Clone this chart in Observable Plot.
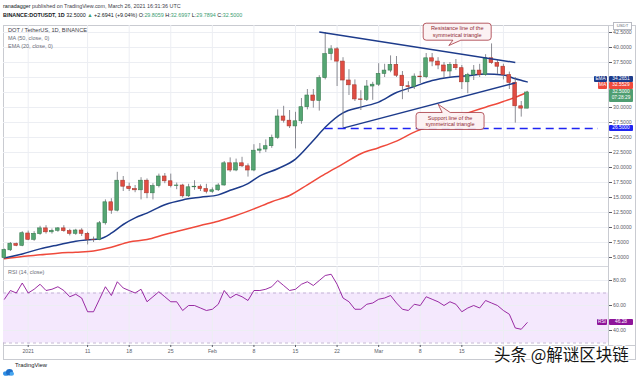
<!DOCTYPE html>
<html>
<head>
<meta charset="utf-8">
<script src="https://cdn.jsdelivr.net/npm/d3@7"></script>
<script src="https://cdn.jsdelivr.net/npm/@observablehq/plot@0.6"></script>
<style>
html,body{margin:0;padding:0;background:#fff;}
#root{position:relative;width:640px;height:376px;overflow:hidden;background:#fff;font-family:"Liberation Sans",Arial,sans-serif;}
.a{position:absolute;white-space:nowrap;}
</style>
</head>
<body>
<div id="root"></div>
<script>
// ---------------- data ----------------
const firstDay = "2020-12-28";
const open = [4.90,6.20,7.25,6.95,
  9.00,7.95,8.90,9.85,9.20,9.45,9.85,9.40,8.95,9.50,8.95,7.95,7.90,10.70,14.20,12.80,17.80,16.80,16.40,16.20,17.80,15.70,16.90,18.50,17.70,16.90,17.00,15.20,16.70,16.80,16.40,
  15.95,16.20,17.00,20.70,19.50,20.70,20.20,19.50,22.80,23.00,23.55,24.95,28.50,27.80,26.85,27.70,30.05,32.00,31.10,34.90,38.90,39.70,37.65,34.50,33.70,31.35,31.25,33.50,
  33.80,35.60,36.15,37.10,35.30,33.55,33.40,35.15,35.05,38.20,37.65,37.00,36.00,37.10,36.55,34.20,35.40,36.15,35.40,38.20,37.40,36.80,35.40,34.10,30.20,29.81];
const high = [6.40,7.50,7.40,9.30,
  9.40,9.30,10.20,10.30,9.75,10.00,10.30,9.70,9.70,9.80,9.20,8.40,11.00,14.60,14.80,19.20,18.50,17.40,17.00,18.30,18.10,17.30,18.90,19.00,18.90,17.40,17.20,17.20,17.80,17.10,17.20,
  16.60,17.30,21.00,21.60,21.40,21.70,20.60,23.80,24.00,24.60,25.40,29.60,30.20,29.50,29.20,31.50,33.00,33.00,35.30,42.50,40.30,40.00,38.30,36.30,34.60,32.80,34.50,34.20,
  37.30,37.20,38.60,38.50,36.00,34.30,35.60,36.00,39.00,39.00,38.30,37.50,37.50,38.00,37.00,35.70,37.00,37.20,38.80,40.60,37.80,37.20,35.90,35.00,31.00,32.70];
const low = [4.80,6.00,6.80,6.80,
  7.80,7.70,8.70,8.90,8.90,9.20,9.20,8.60,8.70,8.50,7.10,7.50,7.80,10.40,12.20,12.60,16.00,16.00,15.80,14.60,14.80,14.60,16.60,17.30,16.60,16.30,14.90,15.00,16.20,16.00,15.60,
  15.70,16.00,16.90,19.20,19.30,20.00,18.40,19.30,22.30,22.50,23.20,24.70,27.40,26.50,23.10,27.20,29.60,29.90,29.40,34.60,37.80,33.50,26.60,32.00,31.00,29.50,31.00,31.20,
  33.50,35.00,35.80,35.00,31.30,32.50,33.00,34.00,34.80,36.80,36.30,34.80,35.00,36.20,33.00,32.30,34.50,35.00,35.20,37.20,35.50,34.60,33.00,27.40,28.40,29.79];
const close = [6.25,7.30,6.95,9.05,
  7.95,8.95,9.85,9.20,9.45,9.85,9.40,8.95,9.50,8.95,7.95,7.90,10.70,14.20,12.80,17.80,16.80,16.40,16.20,17.80,15.70,16.90,18.50,17.70,16.90,17.00,15.20,16.70,16.80,16.40,15.95,
  16.20,17.00,20.70,19.50,20.70,20.20,19.50,22.80,23.00,23.55,24.95,28.50,27.80,26.85,27.70,30.05,32.00,31.10,34.90,38.90,39.70,37.65,34.50,33.70,31.35,31.25,33.50,33.80,
  35.60,36.15,37.10,35.30,33.55,33.40,35.15,35.05,38.20,37.65,37.00,36.00,37.10,36.55,34.20,35.40,36.15,35.40,38.20,37.40,36.80,35.40,34.10,30.20,29.81,32.50];

const emaDates = ["2020-12-28","2020-12-31","2021-01-03","2021-01-06","2021-01-09","2021-01-11","2021-01-13","2021-01-15","2021-01-17","2021-01-19","2021-01-21","2021-01-24","2021-01-27","2021-01-30","2021-02-02","2021-02-04","2021-02-07","2021-02-09","2021-02-12","2021-02-15","2021-02-18","2021-02-20","2021-02-23","2021-02-26","2021-03-01","2021-03-04","2021-03-07","2021-03-10","2021-03-13","2021-03-16","2021-03-19","2021-03-22","2021-03-24","2021-03-26"];
const emaValues = [4.94,5.6,6.44,7.1,7.72,7.94,8.1,9.05,10.5,11.6,12.4,13.8,14.6,15.05,15.44,16.2,17.3,18.6,19.8,21.4,24.5,26.7,29.1,30.06,30.9,32.5,33.5,34.5,35.05,35.3,35.6,35.4,34.8,34.27];

const maDates = ["2020-12-28","2020-12-31","2021-01-03","2021-01-06","2021-01-09","2021-01-12","2021-01-15","2021-01-18","2021-01-21","2021-01-24","2021-01-27","2021-01-30","2021-02-02","2021-02-05","2021-02-08","2021-02-11","2021-02-14","2021-02-17","2021-02-20","2021-02-23","2021-02-26","2021-03-01","2021-03-04","2021-03-07","2021-03-10","2021-03-13","2021-03-16","2021-03-19","2021-03-22","2021-03-24","2021-03-26"];
const maValues = [4.78,5.17,5.44,5.72,5.89,6.1,6.7,7.6,8.0,8.83,9.6,10.33,11.05,12.0,13.1,14.3,15.33,17.1,18.94,20.6,22.3,23.3,24.4,25.9,27.0,28.1,29.1,30.05,31.0,31.7,32.55];

const rsiValues = [65,72,70,78,
  70,73,77,72,73,75,72,67,69,66,55,55,65,75,68,79,74,72,70,73,63,67,71,67,63,63,56,60,60,58,56,
  57,61,72,66,69,67,64,72,72,73,75,80,76,72,73,77,79,76,80,84,85,77,66,63,57,57,61,62,
  65,66,68,62,57,56,61,60,67,65,63,60,63,61,55,58,60,58,64,62,60,56,53,42,41,46.28];

const resistanceLine = {from:"2021-02-19", fromPrice:42.6, to:"2021-03-24", toPrice:37.5};
const supportLine = {from:"2021-02-23", fromPrice:26.56, to:"2021-03-24", toPrice:34.1};
const supportLevel = {price:26.5, from:"2021-02-20", to:"2021-04-07"};

const callouts = [
  {lines:["Resistance line of the","symmetrical triangle"], at:"2021-03-14T07:12Z", price:42.55, tipAt:"2021-03-12T21:36Z", tipPrice:40.25},
  {lines:["Support line of the","symmetrical triangle"], at:"2021-03-13T02:24Z", price:27.67, tipAt:"2021-03-11T02:24Z", tipPrice:30.45}
];

const priceTicks = [5,7.5,10,12.5,15,17.5,20,22.5,25,27.5,30,32.5,35,37.5,40,42.5];
const rsiTicks = [40,60,80];
// grid dates; the last one's label is hidden under the watermark in the reference
const timeTicks = ["2021-01-01","2021-01-11","2021-01-18","2021-01-25","2021-02-01","2021-02-08","2021-02-15","2021-02-22","2021-03-01","2021-03-08","2021-03-15","2021-03-22"];
const timeLabels = ["2021","11","18","25","Feb","8","15","22","Mar","8","15",""];

const lastEMA = 34.2651, lastMA = 32.5529, lastClose = 32.5, lastRSI = 46.28;

// ---------------- build ----------------
const UP = "#55a673", UPB = "#3b7d52", DN = "#e14d43", DNB = "#a9392f", WICK = "#6f7079";
const NAVY = "#1d3b8b", MARED = "#ef4a3c", BLUE = "#1f24f2", RSIC = "#8e1599";
const D = s => new Date(s.length === 10 ? s + "T00:00Z" : s);
const day0 = D(firstDay);
const candles = open.map((o, i) => ({date: d3.utcDay.offset(day0, i), open: o, high: high[i], low: low[i], close: close[i]}));
const ema = emaDates.map((d, i) => ({date: D(d), value: emaValues[i]}));
const ma = maDates.map((d, i) => ({date: D(d), value: maValues[i]}));
const rsi = rsiValues.map((v, i) => ({date: d3.utcDay.offset(day0, i), value: v}));
const tDates = timeTicks.map(D);
const labelDates = tDates.filter((d, i) => timeLabels[i] !== "");
const labelOf = new Map(tDates.map((d, i) => [+d, timeLabels[i]]));
// axis labels covered by the last-value tags are not drawn (as in the reference)
const priceLabelTicks = priceTicks.filter(t => !(t > lastClose - 0.6 && t < lastEMA + 1.2));

const xDomain = [new Date(Date.UTC(2020,11,27,20,13)), new Date(Date.UTC(2021,3,8,16,34))];
const W = 632, MR = 27;
const GRID = "#eceef3";
const root = document.getElementById("root");
function add(html, css) { const d = document.createElement("div"); d.className = "a"; d.style.cssText = css; d.innerHTML = html; root.appendChild(d); return d; }
function place(svg, left, top) { svg.style.position = "absolute"; svg.style.left = left + "px"; svg.style.top = top + "px"; svg.style.overflow = "visible"; svg.style.background = "transparent"; root.appendChild(svg); }

// frame
add("", "left:3px;top:25px;width:631px;height:333px;border:1px solid #c9cbd1;");
add("", "left:608px;top:25px;width:1px;height:321px;background:#c9cbd1;");
add("", "left:4px;top:266px;width:604px;height:1px;background:#d5d7dd;");
add("", "left:4px;top:345px;width:631px;height:1px;background:#c9cbd1;");

const half = 7.5; // hours, half body width
const bodyOpts = {
  x1: d => d3.utcHour.offset(d.date, -half), x2: d => d3.utcHour.offset(d.date, half),
  y1: d => Math.min(d.open, d.close), y2: d => Math.max(d.open, d.close), strokeWidth: 0.6
};
const upC = candles.filter(d => d.close >= d.open), dnC = candles.filter(d => d.close < d.open);

const main = Plot.plot({
  width: W, height: 240, marginTop: 0, marginBottom: 0, marginLeft: 0, marginRight: MR,
  style: {fontFamily: "Liberation Sans, Arial, sans-serif", color: "#5b5e69", background: "transparent", overflow: "visible"},
  x: {type: "utc", domain: xDomain, axis: null},
  y: {domain: [25 - 128/6, 25 + 112/6], axis: null},
  marks: [
    Plot.gridX(tDates, {stroke: GRID, strokeOpacity: 1}),
    Plot.gridY(priceTicks, {stroke: GRID, strokeOpacity: 1}),
    Plot.axisY(priceLabelTicks, {anchor: "right", tickSize: 3, tickPadding: 1.5, fontSize: 5.2, tickFormat: d => d.toFixed(4), label: null}),
    Plot.line(ma, {x: "date", y: "value", stroke: MARED, strokeWidth: 1.5, curve: "monotone-x"}),
    Plot.line(ema, {x: "date", y: "value", stroke: NAVY, strokeWidth: 1.5, curve: "monotone-x"}),
    Plot.ruleX(candles, {x: "date", y1: "low", y2: "high", stroke: WICK, strokeWidth: 0.8}),
    Plot.rect(upC, {...bodyOpts, fill: UP, stroke: UPB}),
    Plot.rect(dnC, {...bodyOpts, fill: DN, stroke: DNB}),
    Plot.link([resistanceLine, supportLine], {x1: d => D(d.from), y1: "fromPrice", x2: d => D(d.to), y2: "toPrice", stroke: NAVY, strokeWidth: 1.5}),
    Plot.ruleY([supportLevel], {y: "price", x1: d => D(d.from), x2: d => D(d.to), stroke: BLUE, strokeWidth: 1.6, strokeDasharray: "8,5"})
  ]
});
place(main, 3, 25);

// callouts drawn with the plot's own scales
const sx = main.scale("x"), sy = main.scale("y");
const g = d3.select(main).append("g");
for (const c of callouts) {
  const cx = sx.apply(D(c.at)), cy = sy.apply(c.price);
  const tx = sx.apply(D(c.tipAt)), ty = sy.apply(c.tipPrice);
  const w = 68, h = 17, r = 3;
  const x0 = cx - w/2, x1 = cx + w/2, y0 = cy - h/2, y1 = cy + h/2;
  const bx = tx + 4, bw = 8;
  let p;
  if (ty > y1) {
    p = `M${x0+r},${y0}H${x1-r}A${r},${r} 0 0 1 ${x1},${y0+r}V${y1-r}A${r},${r} 0 0 1 ${x1-r},${y1}H${bx+bw}L${tx},${ty}L${bx},${y1}H${x0+r}A${r},${r} 0 0 1 ${x0},${y1-r}V${y0+r}A${r},${r} 0 0 1 ${x0+r},${y0}Z`;
  } else {
    p = `M${x0+r},${y0}H${bx}L${tx},${ty}L${bx+bw},${y0}H${x1-r}A${r},${r} 0 0 1 ${x1},${y0+r}V${y1-r}A${r},${r} 0 0 1 ${x1-r},${y1}H${x0+r}A${r},${r} 0 0 1 ${x0},${y1-r}V${y0+r}A${r},${r} 0 0 1 ${x0+r},${y0}Z`;
  }
  g.append("path").attr("d", p).attr("fill", "#fcf1f2").attr("fill-opacity", 0.93).attr("stroke", "#a5343e").attr("stroke-width", 0.8);
  c.lines.forEach((t, i) => {
    g.append("text").attr("x", cx).attr("y", cy - 3.3 + i * 6.6).attr("dy", "0.35em").attr("text-anchor", "middle")
      .attr("font-size", 5.5).attr("fill", "#8e2a33").attr("font-family", "Liberation Sans, Arial, sans-serif").text(t);
  });
}

// RSI pane
const rsiPlot = Plot.plot({
  width: W, height: 79, marginTop: 0, marginBottom: 0, marginLeft: 0, marginRight: MR,
  style: {fontFamily: "Liberation Sans, Arial, sans-serif", color: "#5b5e69", background: "transparent", overflow: "visible"},
  x: {type: "utc", domain: xDomain, axis: null},
  y: {domain: [28, 91.2], axis: null},
  marks: [
    Plot.rect([{lo: 30, hi: 70}], {x1: () => xDomain[0], x2: () => xDomain[1], y1: "lo", y2: "hi", fill: "#f4e8fd"}),
    Plot.gridX(tDates, {stroke: GRID, strokeOpacity: 1}),
    Plot.gridY(rsiTicks, {stroke: GRID, strokeOpacity: 1}),
    Plot.ruleY([30, 70], {stroke: "#b9a6cc", strokeWidth: 0.8, strokeDasharray: "3,3"}),
    Plot.axisY(rsiTicks, {anchor: "right", tickSize: 3, tickPadding: 1.5, fontSize: 5.2, tickFormat: d => d.toFixed(2), label: null}),
    Plot.line(rsi, {x: "date", y: "value", stroke: RSIC, strokeWidth: 0.9})
  ]
});
place(rsiPlot, 3, 266);

// time axis
const timeAxis = Plot.plot({
  width: W, height: 14, marginTop: 0, marginBottom: 14, marginLeft: 0, marginRight: MR,
  style: {fontFamily: "Liberation Sans, Arial, sans-serif", color: "#5b5e69", background: "transparent", overflow: "visible"},
  x: {type: "utc", domain: xDomain},
  marks: [Plot.axisX(labelDates, {anchor: "bottom", tickSize: 2, tickPadding: 1.5, fontSize: 5.2, tickFormat: d => labelOf.get(+d), label: null})]
});
place(timeAxis, 3, 345);

// header
const G = "#3c9d72";
add(`<span style="color:#131722">ranadagger</span> published on TradingView.com, March 26, 2021 16:31:36 UTC`,
    "left:3px;top:3px;font-size:5.4px;line-height:7px;color:#3d4049;");
add(`<b style="color:#131722">BINANCE:DOTUSDT, 1D</b> ${lastClose.toFixed(4)} <span style="color:${G}">▲</span> +2.6941 (+9.04%) O:<span style="color:${G}">29.8059</span> H:<span style="color:${G}">32.6997</span> L:<span style="color:${G}">29.7894</span> C:<span style="color:${G}">32.5000</span>`,
    "left:3px;top:12px;font-size:5.4px;line-height:7px;color:#131722;");

// legends
add("DOT / TetherUS, 1D, BINANCE", "left:8px;top:27px;font-size:5.7px;line-height:7px;color:#3d4049;");
add("MA (50, close, 0)", "left:8px;top:35px;font-size:5.5px;line-height:7px;color:#6b6e78;");
add("EMA (20, close, 0)", "left:8px;top:43px;font-size:5.5px;line-height:7px;color:#6b6e78;");
add("RSI (14, close)", "left:8px;top:269px;font-size:5.5px;line-height:7px;color:#6b6e78;");
add("USDT", "left:613px;top:22px;width:17px;height:6px;border:0.6px solid #b8bac2;background:#fff;font-size:4.3px;line-height:6px;text-align:center;color:#6b6e78;");

// right-side tags (stacked so they do not overlap)
const TH = 6.6;
function tag(name, value, color, centerY, nameW, extra) {
  const top = centerY - TH/2;
  if (name) add(name, `left:${608 - nameW}px;top:${top}px;width:${nameW - 1}px;height:${TH}px;background:${color};color:#fff;font-size:4.7px;line-height:${TH}px;text-align:center;border-radius:1px;`);
  add(value + (extra ? "<br>" + extra : ""), `left:609px;top:${top}px;width:24px;height:${extra ? 2*TH : TH}px;background:${color};color:#fff;font-size:4.8px;line-height:${TH}px;text-align:center;border-radius:1px;`);
}
const yAbs = v => 25 + sy.apply(v);
const priceC = yAbs(lastClose);
const maC = Math.min(yAbs(lastMA), priceC - TH);
const emaC = Math.min(yAbs(lastEMA), maC - TH);
tag(null, lastClose.toFixed(4), "#4f9e72", priceC, 0, "07:28:29");
tag("MA", lastMA.toFixed(4), MARED, maC, 10);
tag("EMA", lastEMA.toFixed(4), NAVY, emaC, 14);
tag(null, supportLevel.price.toFixed(4), BLUE, yAbs(supportLevel.price), 0);
const rsiY = 266 + rsiPlot.scale("y").apply(lastRSI);
tag("RSI", lastRSI.toFixed(2), RSIC, rsiY, 11);

// TradingView logo
add(`<svg width="11" height="7" viewBox="0 0 11 7"><ellipse cx="3" cy="4.5" rx="3" ry="2.3" fill="#2e8fe6"/><ellipse cx="6.5" cy="3.3" rx="3.5" ry="3.2" fill="#1e6fc9"/><ellipse cx="8.8" cy="4.8" rx="2.2" ry="2" fill="#46a6f0"/></svg>`, "left:3px;top:362px;");
add("TradingView", "left:15px;top:362px;font-size:5.8px;line-height:7px;color:#131722;");

// watermark
add("头条 @解谜区块链", "left:494px;top:345px;font-family:'Noto Sans CJK SC',sans-serif;font-size:16.5px;line-height:18px;color:#151515;text-shadow:1px 0 #fff,-1px 0 #fff,0 1px #fff,0 -1px #fff,1px 1px #fff,-1px -1px #fff,1px -1px #fff,-1px 1px #fff,0 0 2px #fff;");
</script>
</body>
</html>
